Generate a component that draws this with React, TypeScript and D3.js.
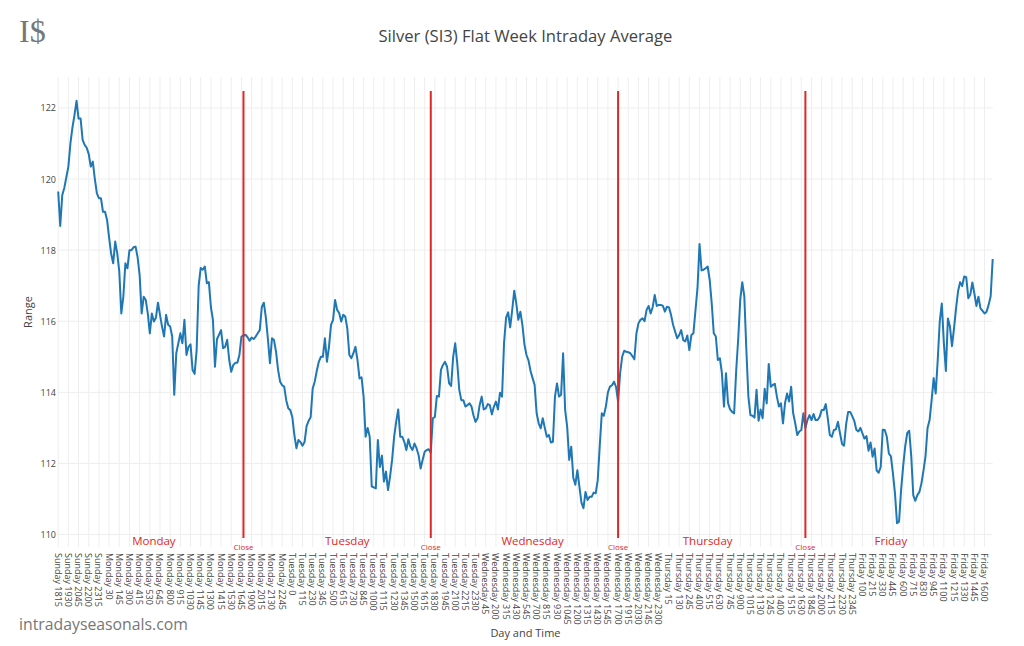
import React from "react";
import * as d3 from "d3";

const values: number[] = [
  119.65, 118.68, 119.55, 119.75, 120.05, 120.35, 121.0, 121.45, 121.8, 122.2,
  121.7, 121.7, 121.1, 120.96, 120.88, 120.7, 120.35, 120.49, 120.0, 119.6,
  119.46, 119.46, 119.08, 119.08, 118.85, 118.35, 117.9, 117.63, 118.24, 117.91,
  117.4, 116.22, 116.69, 117.63, 117.49, 118.0, 118.0, 118.08, 118.1, 117.8,
  117.3, 116.22, 116.69, 116.6, 116.22, 115.66, 116.22, 115.99, 116.1, 116.52,
  116.18, 115.85, 115.57, 116.18, 115.9, 115.85, 115.57, 113.93, 115.1, 115.38,
  115.66, 115.38, 116.04, 115.05, 115.28, 115.35, 114.63, 114.52, 115.19, 117.0,
  117.5, 117.45, 117.54, 117.07, 117.1, 116.4, 116.04, 114.72, 115.5, 115.62,
  115.75, 115.24, 115.28, 115.48, 114.91, 114.58, 114.77, 114.83, 114.83, 115.05,
  115.57, 115.6, 115.62, 115.55, 115.45, 115.54, 115.5, 115.57, 115.66, 115.75,
  116.4, 116.52, 116.1, 115.5, 114.82, 115.52, 115.47, 115.14, 114.63, 114.3,
  114.2, 114.16, 113.78, 113.55, 113.5, 113.3, 112.8, 112.43, 112.66, 112.6,
  112.5, 112.6, 113.05, 113.2, 113.3, 114.11, 114.3, 114.6, 114.86, 115.0,
  115.0, 115.52, 114.86, 115.28, 115.9, 116.04, 116.6, 116.32, 116.23, 115.99,
  116.18, 116.13, 115.8, 115.05, 114.96, 115.1, 115.28, 114.91, 114.39, 114.42,
  113.88, 112.75, 113.0, 112.75, 111.35, 111.33, 111.3, 112.66, 111.9, 112.22,
  111.49, 111.77, 111.25, 111.63, 112.1, 112.75, 113.17, 113.52, 112.75, 112.75,
  112.61, 112.38, 112.68, 112.47, 112.38, 112.56, 112.43, 112.24, 111.86, 112.1,
  112.33, 112.38, 112.4, 112.3, 113.27, 113.31, 113.9, 113.88, 114.63, 114.77,
  114.86, 114.72, 114.25, 114.18, 115.0, 115.38, 114.82, 114.07, 113.78, 113.78,
  113.6, 113.64, 113.69, 113.6, 113.35, 113.17, 113.27, 113.64, 113.88, 113.52,
  113.55, 113.67, 113.64, 113.38, 113.6, 113.74, 113.52, 113.99, 113.88, 115.4,
  116.1, 116.25, 115.83, 116.32, 116.86, 116.5, 116.04, 116.27, 115.9, 115.35,
  115.05, 114.9, 114.6, 114.4, 114.21, 113.41, 113.13, 112.99, 113.27, 113.0,
  112.75, 112.8, 112.59, 112.61, 113.88, 114.25, 113.88, 113.93, 115.1, 113.5,
  113.03, 112.1, 112.47, 111.6, 111.4, 111.81, 111.35, 110.9, 110.74, 111.2,
  110.97, 111.06, 111.06, 111.18, 111.16, 111.53, 112.5, 113.41, 113.34, 113.6,
  114.0, 114.16, 114.2, 114.3, 114.15, 113.74, 114.54, 115.0, 115.17, 115.14,
  115.13, 115.1, 115.02, 114.93, 115.66, 115.94, 116.04, 116.08, 116.0, 116.32,
  116.43, 116.22, 116.4, 116.74, 116.43, 116.46, 116.46, 116.43, 116.27, 116.41,
  116.39, 116.18, 115.9, 115.71, 115.52, 115.61, 115.75, 115.47, 115.43, 115.6,
  115.19, 115.61, 115.66, 116.3, 116.93, 118.17, 117.43, 117.45, 117.49, 117.54,
  117.16, 116.5, 115.66, 115.57, 114.91, 114.96, 114.54, 113.6, 114.54, 113.7,
  113.52, 113.45, 113.41, 114.6, 115.5, 116.6, 117.1, 116.7, 115.2, 113.88,
  113.36, 113.34, 113.29, 114.07, 113.2, 113.52, 113.27, 114.1, 113.69, 114.8,
  114.16, 114.21, 114.24, 113.88, 113.6, 113.69, 113.13, 113.7, 113.97, 113.74,
  114.16, 113.41, 113.13, 112.8, 112.9, 112.94, 113.41, 113.0, 113.22, 113.36,
  113.22, 113.39, 113.22, 113.22, 113.31, 113.5, 113.5, 113.67, 113.27, 112.8,
  112.75, 112.94, 112.96, 113.17, 112.85, 112.55, 112.5, 113.1, 113.45, 113.45,
  113.33, 113.2, 112.95, 112.9, 113.0, 112.85, 112.7, 112.77, 112.36, 112.59,
  112.19, 112.42, 111.8, 111.74, 111.9, 112.95, 112.94, 112.75, 112.28, 112.2,
  111.72, 111.16, 110.32, 110.36, 111.25, 111.91, 112.47, 112.85, 112.92, 112.2,
  111.1, 110.95, 111.11, 111.2, 111.44, 111.8, 112.2, 113.0, 113.22, 113.78,
  114.4, 113.97, 114.91, 116.0, 116.5, 115.4, 114.6, 116.08, 115.85, 115.3,
  115.8, 116.36, 116.85, 117.1, 116.99, 117.26, 117.24, 116.65, 116.75, 117.09,
  116.78, 116.43, 116.69, 116.36, 116.29, 116.22, 116.27, 116.46, 116.7, 117.75,
];

const tickLabels: string[] = [
  "Sunday 1815", "Sunday 1930", "Sunday 2045", "Sunday 2200", "Sunday 2315",
  "Monday 30", "Monday 145", "Monday 300", "Monday 415", "Monday 530", "Monday 645",
  "Monday 800", "Monday 915", "Monday 1030", "Monday 1145", "Monday 1300", "Monday 1415",
  "Monday 1530", "Monday 1645", "Monday 1900", "Monday 2015", "Monday 2130", "Monday 2245",
  "Tuesday 0", "Tuesday 115", "Tuesday 230", "Tuesday 345", "Tuesday 500", "Tuesday 615",
  "Tuesday 730", "Tuesday 845", "Tuesday 1000", "Tuesday 1115", "Tuesday 1230", "Tuesday 1345",
  "Tuesday 1500", "Tuesday 1615", "Tuesday 1830", "Tuesday 1945", "Tuesday 2100", "Tuesday 2215",
  "Tuesday 2330",
  "Wednesday 45", "Wednesday 200", "Wednesday 315", "Wednesday 430", "Wednesday 545",
  "Wednesday 700", "Wednesday 815", "Wednesday 930", "Wednesday 1045", "Wednesday 1200",
  "Wednesday 1315", "Wednesday 1430", "Wednesday 1545", "Wednesday 1700", "Wednesday 1915",
  "Wednesday 2030", "Wednesday 2145", "Wednesday 2300",
  "Thursday 15", "Thursday 130", "Thursday 245", "Thursday 400", "Thursday 515", "Thursday 630",
  "Thursday 745", "Thursday 900", "Thursday 1015", "Thursday 1130", "Thursday 1245",
  "Thursday 1400", "Thursday 1515", "Thursday 1630", "Thursday 1845", "Thursday 2000",
  "Thursday 2115", "Thursday 2230", "Thursday 2345",
  "Friday 100", "Friday 215", "Friday 330", "Friday 445", "Friday 600", "Friday 715",
  "Friday 830", "Friday 945", "Friday 1100", "Friday 1215", "Friday 1330", "Friday 1445",
  "Friday 1600",
];
const tickStep = 5;

const yTicks: number[] = [110, 112, 114, 116, 118, 120, 122];

const closeIndex: number[] = [91, 183, 275, 367];
const dayNames: string[] = ["Monday", "Tuesday", "Wednesday", "Thursday", "Friday"];
const dayIndex: number[] = [47, 142, 233, 319, 409];

const W = 1024;
const H = 646;
const plotLeft = 58.2;
const plotRight = 992.7;
const plotTop = 77;
const plotBottom = 547;
const font = "'Open Sans', verdana, arial, sans-serif";
const RED = "rgb(222,40,40)";

export default function App() {
  const x = d3.scaleLinear().domain([0, values.length - 1]).range([plotLeft, plotRight]);
  const y = d3.scaleLinear().domain([109.65, 122.87]).range([plotBottom, plotTop]);
  const line = d3
    .line<number>()
    .x((_, i) => x(i))
    .y((d) => y(d));

  return (
    <svg
      width={W}
      height={H}
      style={{ position: "absolute", left: 0, top: 0, background: "#fff" }}
      fontFamily={font}
    >
      <rect x={0} y={0} width={W} height={H} fill="#fff" />
      {tickLabels.map((_, k) => (
        <line
          key={"vg" + k}
          x1={x(k * tickStep)}
          x2={x(k * tickStep)}
          y1={plotTop}
          y2={plotBottom}
          stroke="#eee"
          strokeWidth={1}
        />
      ))}
      {yTicks.map((t) => (
        <line
          key={"hg" + t}
          x1={plotLeft}
          x2={plotRight}
          y1={y(t)}
          y2={y(t)}
          stroke="#eee"
          strokeWidth={1}
        />
      ))}
      {yTicks.map((t) => (
        <text
          key={"yt" + t}
          x={56}
          y={y(t)}
          textAnchor="end"
          dominantBaseline="central"
          fontSize={9}
          fill="#444"
        >
          {t}
        </text>
      ))}
      {tickLabels.map((lab, k) => (
        <text
          key={"xt" + k}
          transform={`translate(${x(k * tickStep)},${553}) rotate(90)`}
          textAnchor="start"
          dominantBaseline="central"
          fontSize={9}
          fill="#444"
        >
          {lab}
        </text>
      ))}
      <path d={line(values) || ""} fill="none" stroke="#1f77b4" strokeWidth={2} strokeLinejoin="round" />
      {closeIndex.map((ci) => (
        <g key={"c" + ci}>
          <line x1={x(ci)} x2={x(ci)} y1={91} y2={538} stroke={RED} strokeWidth={2} />
          <text x={x(ci)} y={546} textAnchor="middle" dominantBaseline="central" fontSize={8} fill={RED}>
            Close
          </text>
        </g>
      ))}
      {dayNames.map((d, i) => (
        <text
          key={d}
          x={x(dayIndex[i])}
          y={540}
          textAnchor="middle"
          dominantBaseline="central"
          fontSize={11.5}
          fill={RED}
        >
          {d}
        </text>
      ))}
      <text x={(plotLeft + plotRight) / 2} y={35} textAnchor="middle" dominantBaseline="central" fontSize={16.6} fill="#444">
        Silver (SI3) Flat Week Intraday Average
      </text>
      <text
        transform={`translate(27,${(plotTop + plotBottom) / 2}) rotate(-90)`}
        textAnchor="middle"
        dominantBaseline="central"
        fontSize={11}
        fill="#444"
      >
        Range
      </text>
      <text x={(plotLeft + plotRight) / 2} y={632} textAnchor="middle" dominantBaseline="central" fontSize={11} fill="#444">
        Day and Time
      </text>
      <text x={19} y={31} dominantBaseline="central" fontSize={32} fill="#777" fontFamily="'Liberation Serif', 'DejaVu Serif', serif">
        I$
      </text>
      <text x={19} y={624} dominantBaseline="central" fontSize={15.8} fill="#777">
        intradayseasonals.com
      </text>
    </svg>
  );
}
